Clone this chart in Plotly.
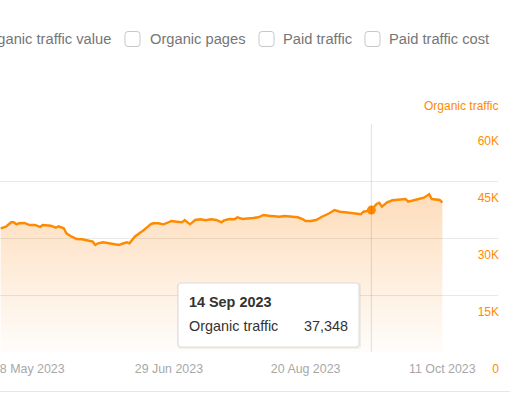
import plotly.graph_objects as go

# ---- data ----
dates = ["2023-04-26","2023-04-28","2023-04-30","2023-05-01","2023-05-02","2023-05-03","2023-05-05",
         "2023-05-07","2023-05-09","2023-05-11","2023-05-12","2023-05-15","2023-05-17","2023-05-18",
         "2023-05-20","2023-05-21","2023-05-23","2023-05-25","2023-05-27","2023-05-29","2023-05-31",
         "2023-06-01","2023-06-02","2023-06-04","2023-06-06","2023-06-08","2023-06-10","2023-06-11",
         "2023-06-13","2023-06-14","2023-06-16","2023-06-18","2023-06-19","2023-06-21","2023-06-22",
         "2023-06-23","2023-06-25","2023-06-27","2023-06-29","2023-06-30","2023-07-02","2023-07-04",
         "2023-07-05","2023-07-07","2023-07-09","2023-07-11","2023-07-13","2023-07-15","2023-07-17",
         "2023-07-19","2023-07-20","2023-07-22","2023-07-24","2023-07-25","2023-07-27","2023-07-29",
         "2023-07-31","2023-08-02","2023-08-04","2023-08-06","2023-08-08","2023-08-10","2023-08-12",
         "2023-08-14","2023-08-15","2023-08-17","2023-08-19","2023-08-20","2023-08-22","2023-08-24",
         "2023-08-26","2023-08-29","2023-08-31","2023-09-02","2023-09-04","2023-09-07","2023-09-09",
         "2023-09-10","2023-09-11","2023-09-13","2023-09-14","2023-09-16","2023-09-17","2023-09-18",
         "2023-09-20","2023-09-22","2023-09-25","2023-09-27","2023-09-28","2023-09-30","2023-10-02",
         "2023-10-04","2023-10-06","2023-10-07","2023-10-10","2023-10-11"]
organic_traffic = [32550,32970,34130,34130,33600,33870,33950,
                   33420,33420,32900,33420,33240,32710,33080,
                   32550,31240,30340,29740,29660,29290,29030,
                   28160,28610,28870,28610,28340,28160,28420,
                   28870,28610,30340,31400,31840,32970,33600,
                   33870,33870,33600,34290,34470,34290,34130,
                   34740,33600,34740,34920,34660,34920,34740,
                   34130,34660,35000,34920,35450,35000,35080,
                   35260,35450,36050,35870,35790,35610,35790,
                   35610,35610,35450,34920,34470,34470,34740,
                   35530,36500,37370,36920,36760,36500,36500,
                   36240,36920,37100,37348,38950,39290,38240,
                   39400,39920,40080,40260,39550,40000,40260,
                   40610,41500,40260,40000,39290]

hover_date = "2023-09-14"
hover_label = "14 Sep 2023"
hover_value = 37348

x_tickvals = ["2023-05-08","2023-06-29","2023-08-20","2023-10-11"]
x_ticktext = ["8 May 2023","29 Jun 2023","20 Aug 2023","11 Oct 2023"]
y_tickvals = [0, 15000, 30000, 45000, 60000]
y_ticktext = ["0", "15K", "30K", "45K", "60K"]

legend_items = ["Organic traffic value", "Organic pages", "Paid traffic", "Paid traffic cost"]

# ---- geometry helpers ----
W, H = 510, 393
ML, MR, MT, MB = 0, 12, 124, 41
PW, PH = W - ML - MR, H - MT - MB

def px(x):
    return (x - ML) / PW

def py(y):
    return 1 - (y - MT) / PH

ORANGE = "#ff8a00"
FONT = "Liberation Sans, Arial, sans-serif"

fig = go.Figure()
fig.add_trace(go.Scatter(
    x=dates, y=organic_traffic, mode="lines",
    line=dict(color=ORANGE, width=2.4),
    fill="tozeroy",
    fillgradient=dict(type="vertical",
                      colorscale=[[0, "rgba(250,140,30,0.02)"], [1, "rgba(250,140,30,0.30)"]]),
    hoverinfo="skip", showlegend=False,
))
fig.add_trace(go.Scatter(
    x=[hover_date], y=[hover_value], mode="markers",
    marker=dict(color=ORANGE, size=9, line=dict(width=0)),
    hoverinfo="skip", showlegend=False,
))

shapes = []
# crosshair
shapes.append(dict(type="line", xref="x", yref="paper", x0=hover_date, x1=hover_date, y0=0, y1=1,
                   line=dict(color="rgba(0,0,0,0.12)", width=1), layer="above"))

def rrect(x0, y0, x1, y1, r):
    return (f"M {px(x0+r)},{py(y0)} L {px(x1-r)},{py(y0)} Q {px(x1)},{py(y0)} {px(x1)},{py(y0+r)} "
            f"L {px(x1)},{py(y1-r)} Q {px(x1)},{py(y1)} {px(x1-r)},{py(y1)} "
            f"L {px(x0+r)},{py(y1)} Q {px(x0)},{py(y1)} {px(x0)},{py(y1-r)} "
            f"L {px(x0)},{py(y0+r)} Q {px(x0)},{py(y0)} {px(x0+r)},{py(y0)} Z")

# tooltip shadow + box
shapes.append(dict(type="path", xref="paper", yref="paper", path=rrect(177, 283, 361, 349, 4),
                   fillcolor="rgba(0,0,0,0.05)", line=dict(width=0), layer="above"))
shapes.append(dict(type="path", xref="paper", yref="paper", path=rrect(178, 283, 359, 347, 3),
                   fillcolor="white", line=dict(color="#dcdcdc", width=1), layer="above"))

# legend checkboxes
for cx in [125, 259, 365]:
    shapes.append(dict(type="path", xref="paper", yref="paper", path=rrect(cx, 31.5, cx + 15, 46.5, 3),
                       fillcolor="white", line=dict(color="#c8c8c8", width=1)))

# bottom separator line
shapes.append(dict(type="line", xref="paper", yref="paper", x0=px(0), x1=px(510), y0=py(391.5), y1=py(391.5),
                   line=dict(color="#e6e6e6", width=1)))

annotations = []
legend_pos = [(113, "right"), (148, "left"), (281, "left"), (387, "left")]
for (lx, anchor), txt in zip(legend_pos, legend_items):
    annotations.append(dict(text=txt, xref="paper", yref="paper", x=px(lx), y=py(39),
                            xanchor=anchor, yanchor="middle", showarrow=False,
                            font=dict(family=FONT, size=14.7, color="#767676")))

annotations.append(dict(text="Organic traffic", xref="paper", yref="paper", x=px(500), y=py(106),
                        xanchor="right", yanchor="middle", showarrow=False,
                        font=dict(family=FONT, size=12, color=ORANGE)))

TIPFONT = dict(family=FONT, size=14.4, color="#333333")
annotations.append(dict(text="<b>" + hover_label + "</b>", xref="paper", yref="paper", x=px(187), y=py(302),
                        xanchor="left", yanchor="middle", showarrow=False, font=TIPFONT))
annotations.append(dict(text="Organic traffic", xref="paper", yref="paper", x=px(187), y=py(326),
                        xanchor="left", yanchor="middle", showarrow=False, font=TIPFONT))
annotations.append(dict(text=f"{hover_value:,}", xref="paper", yref="paper", x=px(349.5), y=py(326),
                        xanchor="right", yanchor="middle", showarrow=False, font=TIPFONT))

fig.update_layout(
    width=W, height=H,
    margin=dict(l=ML, r=MR, t=MT, b=MB, pad=0),
    paper_bgcolor="white", plot_bgcolor="white",
    showlegend=False,
    font=dict(family=FONT),
    shapes=shapes, annotations=annotations,
    xaxis=dict(
        range=["2023-04-25 18:00", "2023-11-01 04:00"],
        tickvals=x_tickvals, ticktext=x_ticktext,
        showgrid=False, zeroline=False, showline=False, ticks="",
        ticklabelstandoff=8, ticklabeloverflow="allow",
        tickfont=dict(family=FONT, size=12.4, color="#a8a8a8"),
        fixedrange=True,
    ),
    yaxis=dict(
        range=[0, 60000], side="right",
        tickvals=y_tickvals, ticktext=y_ticktext,
        ticklabelposition="inside", ticklabelshift=17, ticklabeloverflow="allow",
        ticklabelstandoff=-4,
        showgrid=True, gridcolor="#e8e8e8", gridwidth=1,
        zeroline=False, showline=False, ticks="",
        tickfont=dict(family=FONT, size=12, color=ORANGE),
        fixedrange=True,
    ),
)

fig.write_html("out.html", config={"displayModeBar": False},
               post_script="document.body.style.margin='0';document.body.style.padding='0';")
